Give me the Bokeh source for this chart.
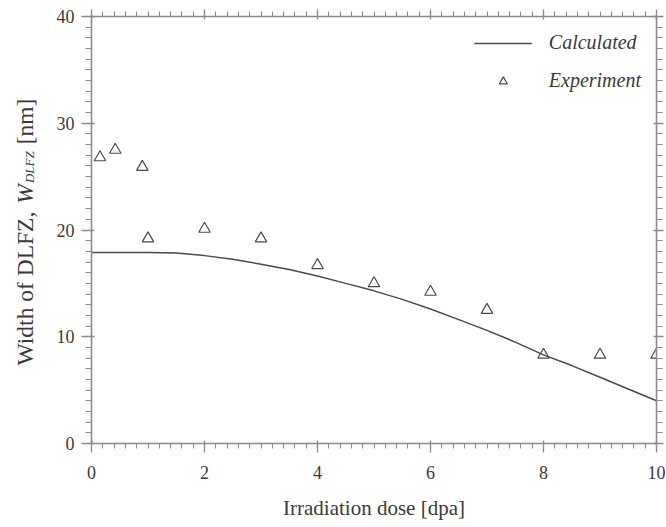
import math
from bokeh.plotting import figure
from bokeh.layouts import row
from bokeh.models import (LinearAxis, SingleIntervalTicker, Range1d, Label,
                          CustomJSTickFormatter)
from bokeh.embed import file_html
from bokeh.resources import INLINE

# Measured width of the denuded (defect-lean) zone versus irradiation dose
dose_exp = [0.15, 0.42, 0.9, 1.0, 2.0, 3.0, 4.0, 5.0, 6.0, 7.0, 8.0, 9.0, 10.0]
width_exp = [26.8, 27.5, 25.9, 19.2, 20.1, 19.2, 16.7, 15.0, 14.2, 12.5, 8.3, 8.3, 8.3]

# Model prediction
dose_calc = [0, 0.5, 1.0, 1.5, 2.0, 2.5, 3.0, 3.5, 4.0, 4.5, 5.0,
             5.5, 6.0, 6.5, 7.0, 7.5, 8.0, 8.5, 9.0, 9.5, 10.0]
width_calc = [17.9, 17.9, 17.9, 17.85, 17.6, 17.25, 16.8, 16.3, 15.7, 15.0, 14.3,
              13.5, 12.6, 11.6, 10.6, 9.5, 8.3, 7.3, 6.2, 5.1, 4.0]

x_ticks_interval = 2
y_ticks_interval = 10

SERIF = "Liberation Serif"
TEXT = "#3a3a3a"
AXIS = "#8a8a8a"
INK = "#4a4a4a"

W, H = 666, 527
TITLE_W = 45                      # strip holding the rotated y title
LEFT, RIGHT, TOP, BOTTOM = 91, 10, 16, 84
FRAME_H = H - TOP - BOTTOM

p = figure(width=W - TITLE_W, height=H, output_backend="svg", toolbar_location=None,
           x_range=Range1d(0, 10), y_range=Range1d(0, 40),
           min_border_left=LEFT - TITLE_W, min_border_right=RIGHT,
           min_border_top=TOP, min_border_bottom=BOTTOM)
p.xaxis.visible = False
p.yaxis.visible = False
p.grid.visible = False
p.outline_line_color = None
p.background_fill_color = "white"
p.border_fill_color = "white"

blank = CustomJSTickFormatter(code="return ''")


def style_axis(ax, major_out, minor_out, labels=True):
    ax.axis_line_color = AXIS
    ax.axis_line_width = 1.6
    ax.major_tick_line_color = AXIS
    ax.minor_tick_line_color = AXIS
    ax.major_tick_line_width = 1.3
    ax.minor_tick_line_width = 1.1
    ax.major_tick_out = major_out
    ax.major_tick_in = 3
    ax.minor_tick_out = minor_out
    ax.minor_tick_in = 0
    ax.major_label_text_font = SERIF
    ax.major_label_text_font_size = "18px"
    ax.major_label_text_color = TEXT
    ax.major_label_standoff = 7
    if not labels:
        ax.formatter = blank


xb = LinearAxis(ticker=SingleIntervalTicker(interval=x_ticks_interval, num_minor_ticks=10))
style_axis(xb, 9, 5)
xb.major_label_standoff = 13
xb.axis_label = "Irradiation dose [dpa]"
xb.axis_label_text_font = SERIF
xb.axis_label_text_font_style = "normal"
xb.axis_label_text_font_size = "21px"
xb.axis_label_text_color = TEXT
xb.axis_label_standoff = 14
p.add_layout(xb, "below")

xt = LinearAxis(ticker=SingleIntervalTicker(interval=x_ticks_interval, num_minor_ticks=10))
style_axis(xt, 7, 5, labels=False)
p.add_layout(xt, "above")

yl = LinearAxis(ticker=SingleIntervalTicker(interval=y_ticks_interval, num_minor_ticks=10))
style_axis(yl, 10, 6)
p.add_layout(yl, "left")

yr = LinearAxis(ticker=SingleIntervalTicker(interval=y_ticks_interval, num_minor_ticks=10))
style_axis(yr, 7, 6, labels=False)
p.add_layout(yr, "right")

p.line(dose_calc, width_calc, line_color=INK, line_width=1.5, legend_label="Calculated")
p.scatter(dose_exp, width_exp, marker="triangle", size=11.5, fill_color=None,
          line_color=INK, line_width=1.2, legend_label="Experiment")

lg = p.legend[0]
lg.location = "top_right"
lg.margin = 15
lg.padding = 0
lg.spacing = 15
lg.glyph_width = 58
lg.glyph_height = 20
lg.label_height = 20
lg.label_standoff = 17
lg.label_text_font = SERIF
lg.label_text_font_style = "italic"
lg.label_text_font_size = "20px"
lg.label_text_color = TEXT
lg.border_line_color = None
lg.background_fill_alpha = 0

# Narrow strip on the left carrying the rotated y title. Its frame lines up
# with the main frame vertically, so one y unit = one pixel above its bottom.
t = figure(width=TITLE_W, height=H, output_backend="svg", toolbar_location=None,
           x_range=Range1d(0, TITLE_W), y_range=Range1d(0, FRAME_H),
           min_border_left=0, min_border_right=0,
           min_border_top=TOP, min_border_bottom=BOTTOM)
t.axis.visible = False
t.grid.visible = False
t.outline_line_color = None
t.border_fill_color = "white"
t.background_fill_color = "white"

# Title assembled from pieces: plain text, italic symbol, subscript, unit
fs = 23.5
fs_sub = 13.0
pieces = [
    ("Width of DLFZ,", "normal", fs, 6.583 * fs, 0.0),
    ("W", "italic", fs, 0.833 * fs + 1, 0.0),
    ("DLFZ", "italic", fs_sub, 2.445 * fs_sub, 5.0),
    ("[nm]", "normal", fs, 1.944 * fs, 0.0),
]
gaps = [0.3 * fs, 0.0, 0.3 * fs, 0.0]
total = sum(pc[3] for pc in pieces) + sum(gaps)
pos = FRAME_H / 2 - total / 2 - 2
base_x = 24
for (txt, style, size, w, shift), gap in zip(pieces, gaps):
    t.add_layout(Label(x=base_x + shift, y=pos, text=txt, angle=math.pi / 2,
                       text_align="left", text_baseline="alphabetic",
                       text_font=SERIF, text_font_style=style,
                       text_font_size=f"{size}px", text_color=TEXT))
    pos += w + gap

layout = row(t, p, spacing=0)
open("out.html", "w").write(file_html(layout, INLINE))
